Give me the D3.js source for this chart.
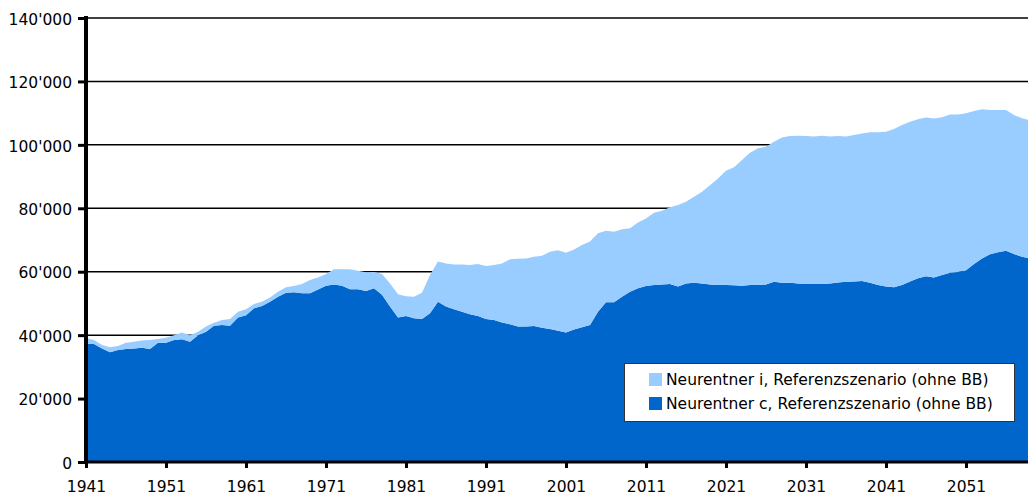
<!DOCTYPE html>
<html>
<head>
<meta charset="utf-8">
<style>
body { margin: 0; background: #fff; }
svg { display: block; }
.grid line { stroke: #000; stroke-width: 1.5; }
</style>
</head>
<body>
<svg id="chart" width="1028" height="495"></svg>
<script src="https://cdn.jsdelivr.net/npm/d3@7/dist/d3.min.js"></script>
<script>
// years 1941..2059, one value per year
var firstYear = 1941, lastYear = 2059;
var years = d3.range(firstYear, lastYear + 1);

// Neurentner c (bottom layer)
var neurentnerC = [
  37400, 37200, 35800, 34600, 35300, 35600, 35800, 36000, 35600, 37600,
  37600, 38500, 38700, 37900, 40000, 41100, 43000, 43200, 43000, 45600,
  46300, 48500, 49200, 50500, 52100, 53400, 53500, 53200, 53200, 54400,
  55600, 56000, 55600, 54500, 54500, 53900, 54800, 52700, 49000, 45600,
  46000, 45300, 45100, 46900, 50500, 49000, 48200, 47400, 46600, 46000,
  45100, 44800, 44000, 43400, 42700, 42700, 42900, 42300, 41900, 41400,
  40800, 41800, 42500, 43200, 47400, 50400, 50400, 52100, 53700, 54800,
  55500, 55800, 56000, 56100, 55300, 56300, 56500, 56300, 56000, 55800,
  55800, 55700, 55600, 55800, 55800, 56000, 56800, 56500, 56500, 56300,
  56100, 56100, 56100, 56300, 56600, 56800, 56900, 57100, 56500, 55800,
  55300, 55100, 55800, 56900, 57900, 58600, 58200, 59000, 59700, 59900,
  60500, 62400, 64200, 65500, 66100, 66600, 65600, 64700, 64200
];

// Neurentner i (stacked on top of c)
var neurentnerI = [
  1600, 1300, 1100, 1600, 1300, 2000, 2100, 2300, 2900, 1200,
  1600, 1500, 2100, 2100, 1100, 1600, 900, 1600, 2100, 1800,
  1900, 1300, 1300, 1400, 1600, 1700, 2000, 2900, 4200, 3800,
  3700, 4800, 5200, 6300, 5800, 5900, 5100, 6600, 7300, 7300,
  6300, 6800, 8300, 12100, 12700, 13600, 14100, 14900, 15500, 16400,
  16700, 17300, 18600, 20500, 21400, 21500, 21800, 22700, 24400, 25400,
  25200, 25200, 25900, 26300, 24700, 22500, 22200, 21300, 20000, 20700,
  21300, 22800, 23200, 24200, 25700, 25800, 27100, 28900, 31300, 33600,
  36000, 37200, 39600, 41700, 43100, 43400, 44200, 45800, 46300, 46600,
  46700, 46500, 46800, 46300, 46200, 45800, 46200, 46500, 47500, 48200,
  48800, 49900, 50500, 50400, 50200, 50000, 50100, 49700, 49900, 49700,
  49500, 48300, 47000, 45500, 44900, 44400, 43800, 43700, 43600
];

var yTicks = [0, 20000, 40000, 60000, 80000, 100000, 120000, 140000];
var xTicks = [1941, 1951, 1961, 1971, 1981, 1991, 2001, 2011, 2021, 2031, 2041, 2051];

var seriesNames = ["Neurentner i, Referenzszenario (ohne BB)", "Neurentner c, Referenzszenario (ohne BB)"];
var colorC = "#0066cc", colorI = "#99ccff";
var font = "DejaVu Sans, Verdana, sans-serif";
var fontSize = 15.5;

var svg = d3.select("#chart");
var W = +svg.attr("width");

var x = d3.scaleLinear().domain([firstYear, lastYear]).range([86, 1030]);
var y = d3.scaleLinear().domain([0, 140000]).range([462, 18]);

var rows = years.map(function(yr, k) { return {year: yr, c: neurentnerC[k], i: neurentnerI[k]}; });
var stacked = d3.stack().keys(["c", "i"])(rows);

svg.append("defs").append("clipPath").attr("id", "clip")
  .append("rect").attr("x", 86).attr("y", 0).attr("width", W - 86).attr("height", 462);

// gridlines
svg.append("g").attr("class", "grid")
  .selectAll("line").data(yTicks.slice(1)).enter().append("line")
    .attr("x1", 86).attr("x2", W)
    .attr("y1", function(d) { return y(d); })
    .attr("y2", function(d) { return y(d); });

var area = d3.area()
  .x(function(d) { return x(d.data.year); })
  .y0(function(d) { return y(d[0]); })
  .y1(function(d) { return y(d[1]); });

svg.append("g").attr("clip-path", "url(#clip)")
  .selectAll("path").data(stacked).enter().append("path")
    .attr("fill", function(d) { return d.key == "c" ? colorC : colorI; })
    .attr("d", area);

// y axis
var yAxis = svg.append("g")
  .attr("transform", "translate(86,0)")
  .call(d3.axisLeft(y).tickValues(yTicks).tickSize(8).tickPadding(6)
    .tickFormat(function(d) { return d3.format(",")(d).replace(/,/g, "'"); }));
yAxis.attr("font-family", font).attr("font-size", fontSize);
yAxis.select(".domain").remove();
yAxis.selectAll(".tick line").attr("stroke", "#000").attr("stroke-width", 3);
yAxis.selectAll(".tick text").attr("fill", "#000").attr("dy", "0.4em");
svg.append("line").attr("x1", 86).attr("x2", 86).attr("y1", 16).attr("y2", 464)
  .attr("stroke", "#000").attr("stroke-width", 4);

// x axis
var xAxis = svg.append("g")
  .attr("transform", "translate(0,462)")
  .call(d3.axisBottom(x).tickValues(xTicks).tickSize(6).tickPadding(13).tickFormat(d3.format("d")));
xAxis.attr("font-family", font).attr("font-size", fontSize);
xAxis.select(".domain").remove();
xAxis.selectAll(".tick line").attr("stroke", "#000").attr("stroke-width", 3);
xAxis.selectAll(".tick text").attr("fill", "#000");
svg.append("line").attr("x1", 84).attr("x2", W).attr("y1", 462).attr("y2", 462)
  .attr("stroke", "#000").attr("stroke-width", 3);

// legend
var legend = svg.append("g").attr("font-family", font).attr("font-size", fontSize);
legend.append("rect")
  .attr("x", 624.5).attr("y", 363.5).attr("width", 390).attr("height", 58)
  .attr("fill", "#fff").attr("stroke", "#333").attr("stroke-width", 1);
var items = legend.selectAll("g.item").data(seriesNames).enter().append("g")
  .attr("class", "item")
  .attr("transform", function(d, k) { return "translate(649," + (373 + k * 24) + ")"; });
items.append("rect").attr("width", 13).attr("height", 13)
  .attr("fill", function(d, k) { return k == 0 ? colorI : colorC; });
items.append("text").attr("x", 17).attr("y", 12).attr("fill", "#000").text(function(d) { return d; });
</script>
</body>
</html>
